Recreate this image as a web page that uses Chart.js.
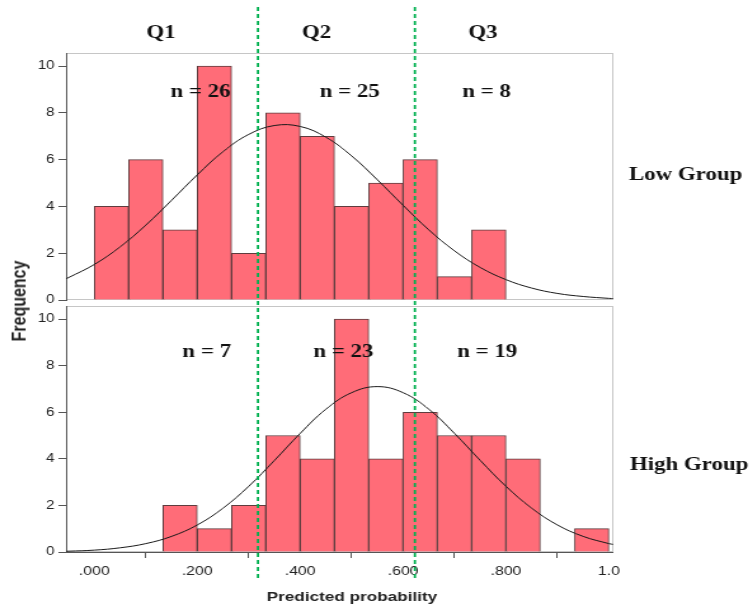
<!DOCTYPE html>
<html><head><meta charset="utf-8">
<script src="https://cdn.jsdelivr.net/npm/chart.js@4.4.1/dist/chart.umd.min.js"></script>
<style>
html,body{margin:0;padding:0;background:#fff;width:750px;height:609px;overflow:hidden}
#wrap{position:absolute;left:0;top:0;width:591px;height:609px;transform:scaleX(1.27);transform-origin:0 0}
#cTop{position:absolute;left:0;top:0}
#cBot{position:absolute;left:0;top:296px}
#freq{position:absolute;left:14.5px;top:301px;transform:translate(-50%,-50%) rotate(-90deg);font:bold 16px 'Liberation Sans',Arial,sans-serif;color:#222;white-space:nowrap;line-height:1}
</style></head><body>
<div id="wrap">
<canvas id="cTop" width="591" height="310"></canvas>
<canvas id="cBot" width="591" height="313"></canvas>
<div id="freq">Frequency</div>
</div>
<script>
// ---------- data ----------
const binEdges   = [0, 0.0667, 0.1333, 0.2, 0.2667, 0.3333, 0.4, 0.4667, 0.5333, 0.6, 0.6667, 0.7333, 0.8, 0.8667, 0.9333, 1.0];
const lowCounts  = [4, 6, 3, 10, 2, 8, 7, 4, 5, 6, 1, 3, 0, 0, 0];
const highCounts = [0, 0, 2, 1, 2, 5, 4, 10, 4, 6, 5, 5, 4, 0, 1];
const curveX     = [-0.06, -0.05, 0, 0.05, 0.1, 0.15, 0.2, 0.25, 0.3, 0.35, 0.4, 0.45, 0.5, 0.55, 0.6, 0.65, 0.7, 0.75, 0.8, 0.85, 0.9, 0.95, 1.0, 1.01];
const lowCurve   = [0.86, 0.96, 1.52, 2.27, 3.2, 4.26, 5.35, 6.34, 7.08, 7.46, 7.42, 6.96, 6.16, 5.14, 4.05, 3.0, 2.1, 1.39, 0.87, 0.51, 0.28, 0.15, 0.07, 0.06];
const highCurve  = [0.03, 0.035, 0.08, 0.18, 0.36, 0.67, 1.16, 1.88, 2.82, 3.93, 5.09, 6.13, 6.84, 7.1, 6.84, 6.13, 5.09, 3.93, 2.82, 1.88, 1.16, 0.67, 0.36, 0.32];
const xTickValues = [0, 0.2, 0.4, 0.6, 0.8, 1.0];
const xTickLabels = ['.000', '.200', '.400', '.600', '.800', '1.0'];
const yTickValues = [0, 2, 4, 6, 8, 10];
const quartileCuts   = [0.318, 0.623];
const quartileLabels = ['Q1', 'Q2', 'Q3'];
const lowN  = [26, 25, 8];
const highN = [7, 23, 19];
const groupLabels = ['Low Group', 'High Group'];
const xTitle = 'Predicted probability';

// ---------- layout / style ----------
const S = 1.27;               // horizontal stretch of the reference
const X_MIN = -0.055, X_MAX = 1.008, Y_MAX = 10.56;
const BAR_FILL = 'rgb(255,108,120)';
const BAR_EDGE = '#5e3c3e';
const AXIS = '#555';
const SERIF = "bold 18px 'Liberation Serif','Times New Roman',serif";
const SANS = "'Liberation Sans', Arial, sans-serif";

function barData(counts){
  const out = [];
  counts.forEach((c,i)=>{ if(c>0) out.push({x:(binEdges[i]+binEdges[i+1])/2, y:c}); });
  return out;
}
function curveData(vals){ return curveX.map((x,i)=>({x:x, y:vals[i]})); }

const framePlugin = {
  id:'frame',
  beforeDraw(chart){
    const ctx = chart.ctx, a = chart.chartArea;
    ctx.save();
    ctx.strokeStyle = '#c6c6c6'; ctx.lineWidth = 1;
    ctx.strokeRect(Math.round(a.left)+0.5, Math.round(a.top)+0.5, Math.round(a.right-a.left)-1, Math.round(a.bottom-a.top)-1);
    ctx.restore();
  }
};

function overlay(cfg){
  return {
    id:'overlay',
    afterDraw(chart){
      const ctx = chart.ctx, xs = chart.scales.x;
      ctx.save();
      ctx.strokeStyle = '#00b050'; ctx.lineWidth = 1.8;
      ctx.setLineDash([4,3]); ctx.lineDashOffset = cfg.dashOffset;
      quartileCuts.forEach(v=>{
        const x = xs.getPixelForValue(v);
        ctx.beginPath(); ctx.moveTo(x, cfg.lineFrom); ctx.lineTo(x, cfg.lineTo); ctx.stroke();
      });
      ctx.setLineDash([]);
      cfg.texts.forEach(t=>{
        ctx.font = t.font; ctx.fillStyle = t.color || '#111';
        ctx.textAlign = t.align || 'center'; ctx.textBaseline = 'alphabetic';
        ctx.fillText(t.text, t.x / S, t.y);
      });
      ctx.restore();
    }
  };
}

function yAxis(){
  return {
    type:'linear', min:0, max:Y_MAX,
    afterBuildTicks(s){ s.ticks = yTickValues.map(v=>({value:v})); },
    afterFit(s){ s.width = 52; s.paddingTop = 0; s.paddingBottom = 0; },
    ticks:{ font:{family:SANS, size:12}, color:'#222', padding:3 },
    grid:{ drawOnChartArea:false, drawTicks:true, tickLength:6, color:AXIS, lineWidth:1 },
    border:{ display:true, color:AXIS, width:1 }
  };
}

function makeChart(canvas, counts, curve, showX, padding, ov){
  return new Chart(canvas, {
    type:'bar',
    data:{ datasets:[
      { type:'line', data:curveData(curve), borderColor:'#1a1a1a', borderWidth:1, pointRadius:0, tension:0.4, fill:false, order:0 },
      { type:'bar', data:barData(counts), backgroundColor:BAR_FILL, borderColor:BAR_EDGE, borderWidth:1, barPercentage:1, categoryPercentage:1, order:1 }
    ]},
    options:{
      responsive:false, animation:false, devicePixelRatio:1,
      layout:{ padding:padding },
      plugins:{ legend:{display:false}, tooltip:{enabled:false} },
      scales:{
        x:{
          type:'linear', min:X_MIN, max:X_MAX, offset:false, display:showX,
          afterBuildTicks(s){ s.ticks = xTickValues.map(v=>({value:v})); },
          afterFit(s){ if(showX){ s.height = 57; } s.paddingLeft = 0; s.paddingRight = 0; },
          ticks:{ font:{family:SANS, size:12.5}, color:'#222', padding:6, maxRotation:0, autoSkip:false,
                  callback(v, i){ return xTickLabels[i]; } },
          grid:{ drawOnChartArea:false, drawTicks:true, tickLength:6, color:AXIS, lineWidth:1 },
          border:{ display:true, color:AXIS, width:1 }
        },
        y:yAxis()
      }
    },
    plugins:[framePlugin, overlay(ov)]
  });
}

const RIGHT_PAD = 591 - 613 / S;

makeChart(document.getElementById('cTop'), lowCounts, lowCurve, false,
  {top:53, bottom:10, left:0, right:RIGHT_PAD},
  { lineFrom:7, lineTo:303, dashOffset:0, texts:[
      {text:quartileLabels[0], x:161,   y:38, font:SERIF},
      {text:quartileLabels[1], x:316.7, y:38, font:SERIF},
      {text:quartileLabels[2], x:483,   y:38, font:SERIF},
      {text:'n = ' + lowN[0], x:200.5, y:97, font:SERIF},
      {text:'n = ' + lowN[1], x:349.7, y:97, font:SERIF},
      {text:'n = ' + lowN[2], x:486.7, y:97, font:SERIF},
      {text:groupLabels[0], x:629, y:180, font:SERIF, align:'left'}
  ]});

makeChart(document.getElementById('cBot'), highCounts, highCurve, true,
  {top:10, bottom:0, left:0, right:RIGHT_PAD},
  { lineFrom:7, lineTo:284, dashOffset:2, texts:[
      {text:'n = ' + highN[0], x:206.7, y:61, font:SERIF},
      {text:'n = ' + highN[1], x:343.3, y:61, font:SERIF},
      {text:'n = ' + highN[2], x:487.2, y:61, font:SERIF},
      {text:groupLabels[1], x:630, y:174, font:SERIF, align:'left'},
      {text:xTitle, x:352, y:305, font:"bold 13.5px " + SANS, color:'#222'}
  ]});
</script>
</body></html>
